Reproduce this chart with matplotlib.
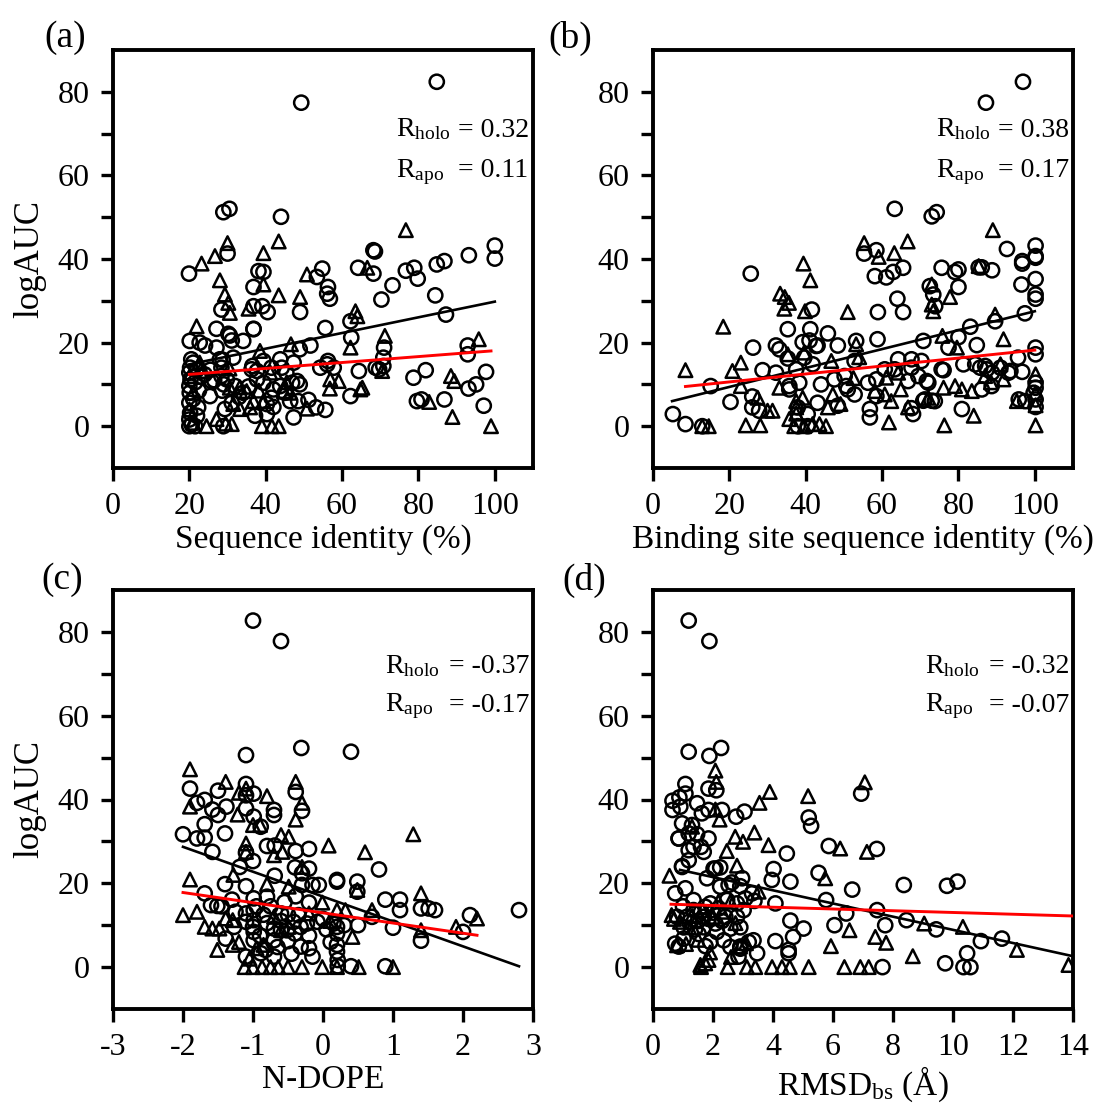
import matplotlib
matplotlib.use("Agg")
import matplotlib.pyplot as plt

plt.rcParams['font.family'] = ['Liberation Serif', 'DejaVu Serif']
plt.rcParams['mathtext.fontset'] = 'custom'
plt.rcParams['mathtext.rm'] = 'Liberation Serif'
plt.rcParams['mathtext.it'] = 'Liberation Serif:italic'

# ---------------- data ----------------
# (a) sequence identity
a_circles = [(84.8, 82.4), (49.3, 77.4), (28.9, 51.2), (30.5, 52.0), (44.0, 50.1), (100, 43.2), (100, 40.1),
             (93.2, 40.9), (84.8, 38.7), (86.8, 39.5), (78.9, 37.9), (79.8, 35.3), (76.7, 37.2), (73.2, 33.7),
             (70.3, 30.3), (68.2, 42.1), (68.6, 41.8), (68.2, 36.5), (64.2, 37.9), (54.8, 37.7), (53.4, 35.7),
             (56.3, 33.3), (56.1, 31.7), (56.8, 30.5), (49.0, 27.3), (84.4, 31.3), (87.2, 26.7), (55.6, 23.5),
             (62.2, 25.1), (62.4, 21.2), (51.7, 19.3), (48.9, 18.4), (19.9, 36.5), (30.0, 41.3), (38.1, 37.1),
             (39.4, 36.9), (36.8, 33.3), (36.8, 28.7), (39.1, 28.7), (40.5, 27.3), (28.4, 27.9), (36.8, 23.2),
             (34.1, 20.4), (27.1, 23.3), (30.2, 22.1), (31.1, 20.5), (20.1, 20.4), (22.7, 20.0), (24.1, 19.3),
             (27.1, 18.8), (20.5, 16.0), (31.5, 16.4), (39.4, 15.6), (43.8, 16.0), (47.3, 15.2), (56.3, 15.6),
             (56.1, 14.8), (57.8, 14.0), (54.3, 14.0), (71.0, 18.8), (70.8, 16.4), (70.8, 14.4), (68.8, 14.0),
             (69.7, 13.6), (64.4, 13.2), (92.9, 19.3), (92.9, 17.2), (97.7, 13.0), (93.1, 9.0), (95.1, 10.0),
             (78.7, 11.6), (81.9, 13.4), (79.6, 6.0), (80.8, 6.4), (86.8, 6.4), (97.1, 4.9), (62.2, 7.2),
             (51.2, 6.3), (55.6, 3.9), (47.3, 2.1), (46.4, 6.0), (46.9, 10.4), (48.2, 10.8), (48.9, 10.0),
             (43.8, 9.6), (45.4, 12.8), (42.0, 8.8), (40.3, 5.3), (42.0, 4.6), (37.2, 2.5), (40.3, 2.9),
             (37.7, 11.2), (39.4, 10.4), (36.3, 13.6), (37.7, 13.2), (34.1, 8.0), (29.3, 4.1), (31.1, 5.6),
             (28.9, 0.0), (25.4, 7.2), (25.8, 10.8), (28.4, 14.0), (28.4, 12.0), (29.8, 11.2), (28.0, 16.0),
             (22.3, 4.5), (20.0, 0.0), (20.6, 0.4), (21.5, 0.0), (20.0, 1.6), (20.2, 3.2), (20.0, 5.6),
             (20.1, 8.0), (20.0, 9.6), (20.3, 11.2), (20.0, 12.8), (20.2, 14.0), (21.0, 15.2), (22.0, 13.5),
             (21.5, 10.5), (22.5, 8.5), (21.0, 6.5), (22.0, 2.5), (23.0, 11.8), (30.6, 21.7), (36.8, 23.3),
             (28.7, 15.9), (36.5, 14.4), (41.5, 14.0), (44.2, 14.0), (28.6, 8.5), (33.0, 7.0), (35.5, 9.5),
             (45.0, 8.0), (48.5, 6.0), (53.2, 4.5), (41.5, 6.8), (25.5, 13.5), (24.0, 12.4), (26.5, 11.0),
             (29.0, 10.0), (32.0, 9.6)]
a_triangles = [(76.7, 46.9), (30.0, 43.8), (43.4, 44.2), (39.4, 41.4), (26.7, 40.7), (23.2, 38.9), (28.0, 34.9),
               (39.4, 33.9), (50.8, 36.3), (66.6, 37.9), (29.3, 31.5), (30.2, 29.5), (30.6, 27.1), (35.5, 28.1),
               (43.4, 31.3), (49.0, 30.9), (63.5, 27.5), (64.0, 26.3), (71.2, 21.6), (95.8, 20.8), (62.2, 18.8),
               (38.5, 18.0), (46.6, 19.6), (21.9, 23.9), (22.7, 15.2), (23.6, 13.2), (70.5, 13.2), (88.5, 12.0),
               (89.4, 10.8), (82.8, 5.8), (88.9, 2.2), (99.0, 0.0), (65.3, 9.2), (64.8, 8.8), (56.9, 11.2),
               (59.1, 10.8), (56.8, 9.0), (50.8, 4.2), (36.8, 6.0), (35.9, 4.5), (33.3, 4.1), (31.5, 5.3),
               (24.5, 0.0), (27.1, 1.7), (31.1, 0.5), (39.0, 0.0), (41.6, 0.0), (43.4, 0.0), (41.2, 12.8),
               (39.4, 6.0), (44.7, 8.4), (46.4, 8.0), (35.0, 8.4), (30.6, 9.2), (20.1, 12.0), (21.0, 8.0),
               (21.0, 0.8), (20.0, 4.0), (38.2, 8.5), (45.5, 10.5), (30.5, 13.8), (33.2, 9.3), (29.5, 0.6)]
a_black_x = [20, 100]
a_black_y = [14.8, 29.8]
a_red_x = [20, 99]
a_red_y = [12.4, 18.0]

# (b) binding site sequence identity
b_circles = [(96.9, 82.4), (87.2, 77.4), (63.3, 52.0), (73.0, 50.2), (74.3, 51.2), (92.7, 42.4), (100.2, 43.2),
             (100.2, 40.7), (100.2, 40.3), (96.7, 39.5), (96.7, 38.9), (58.5, 42.1), (55.3, 41.3), (58.1, 35.9),
             (61.1, 35.6), (62.9, 36.9), (65.5, 37.9), (75.6, 37.9), (79.1, 36.9), (80.0, 37.5), (88.8, 37.3),
             (85.3, 38.0), (86.1, 38.0), (25.6, 36.5), (100.2, 35.2), (96.5, 33.9), (100.2, 31.5), (100.2, 30.5),
             (80.0, 33.3), (64.0, 30.5), (58.9, 27.3), (65.5, 27.3), (41.6, 27.9), (73.4, 31.5), (73.9, 28.7),
             (72.5, 33.5), (97.4, 27.0), (89.6, 25.1), (83.1, 23.8), (80.0, 21.3), (84.8, 19.4), (70.8, 20.4),
             (58.8, 20.8), (53.2, 20.4), (45.8, 22.2), (41.2, 23.2), (35.3, 23.2), (39.2, 20.1), (39.6, 16.4),
             (43.1, 19.3), (48.4, 19.3), (32.2, 19.3), (33.1, 18.4), (26.2, 18.8), (35.3, 16.2), (28.7, 13.4),
             (32.2, 12.8), (37.5, 13.6), (41.8, 14.8), (52.8, 15.6), (64.2, 16.0), (67.7, 16.0), (70.3, 15.6),
             (60.7, 13.6), (76.1, 13.4), (81.3, 14.8), (84.4, 14.8), (85.7, 14.0), (87.4, 13.6), (88.8, 12.8),
             (91.0, 14.0), (93.6, 13.2), (95.6, 16.4), (96.7, 13.0), (100.2, 18.8), (100.2, 17.2), (100.2, 10.4),
             (100.2, 9.2), (100.2, 6.4), (100.2, 4.6), (95.8, 6.4), (97.5, 6.0), (80.9, 4.1), (71.2, 6.4),
             (73.8, 6.0), (68.1, 2.9), (56.8, 4.1), (56.8, 2.1), (58.5, 7.2), (51.0, 8.8), (52.8, 7.6),
             (50.2, 12.0), (44.0, 10.0), (43.1, 5.6), (48.4, 4.9), (40.5, 2.9), (37.9, 4.5), (35.7, 9.6),
             (38.3, 10.4), (26.0, 7.1), (26.0, 4.5), (27.8, 3.7), (20.3, 5.8), (15.1, 9.6), (5.2, 2.9),
             (8.5, 0.5), (12.9, 0.0), (37.9, 0.0), (40.5, 0.0), (63.3, 13.6), (56.3, 10.4), (58.5, 11.2),
             (66.8, 10.8), (69.5, 12.0), (72.1, 10.4), (86.1, 8.8), (77.4, 18.8), (67.7, 14.0), (71.7, 10.8),
             (73.0, 6.1), (70.8, 6.1), (67.7, 4.3), (75.6, 13.6), (87.0, 14.4), (88.7, 9.6), (93.1, 12.8),
             (99.7, 8.0), (41.0, 20.5), (42.7, 19.2), (35.7, 8.8), (47.5, 11.2), (50.6, 9.6)]
b_triangles = [(89.0, 46.9), (55.3, 43.8), (66.7, 44.2), (63.2, 41.4), (59.1, 40.5), (39.4, 38.9), (41.2, 34.9),
               (33.3, 31.7), (34.5, 30.9), (35.6, 29.5), (34.4, 28.1), (39.8, 27.5), (51.0, 27.3), (73.0, 33.9),
               (73.4, 27.5), (73.0, 29.1), (77.8, 30.9), (85.3, 38.3), (89.6, 26.7), (75.8, 21.6), (91.8, 20.8),
               (79.6, 18.8), (53.2, 19.6), (39.6, 17.6), (35.3, 17.2), (46.7, 15.6), (23.0, 15.2), (20.8, 13.2),
               (18.4, 23.8), (8.5, 13.4), (23.0, 9.6), (33.1, 9.2), (27.4, 6.8), (30.0, 3.7), (31.3, 3.7),
               (37.5, 4.5), (39.2, 6.8), (45.8, 4.5), (47.1, 7.6), (49.1, 5.3), (58.1, 8.4), (60.7, 7.6),
               (62.4, 6.0), (64.9, 8.8), (66.8, 4.5), (72.1, 6.8), (76.1, 9.2), (79.1, 9.6), (80.9, 8.8),
               (83.5, 8.4), (91.0, 14.8), (91.8, 11.2), (95.3, 6.0), (100.2, 12.4), (84.0, 2.5), (100.2, 0.2),
               (76.3, 0.2), (61.8, 0.9), (24.3, 0.2), (28.1, 0.2), (14.6, 0.0), (12.9, 0.0), (35.7, 1.7),
               (37.0, 0.0), (39.6, 0.0), (41.8, 0.5), (43.6, 0.5), (45.3, 0.0), (61.1, 11.6), (64.2, 12.8),
               (37.5, 6.0), (37.5, 3.0), (54.0, 16.5), (52.5, 11.5), (87.0, 12.0), (88.5, 10.5), (100.2, 8.0),
               (100.2, 5.0)]
b_black_x = [5, 100]
b_black_y = [6.0, 27.5]
b_red_x = [8.5, 100]
b_red_y = [9.5, 18.2]

# (c) N-DOPE
c_circles = [(-1.0, 82.7), (-0.6, 77.8), (-0.31, 52.3), (0.40, 51.4), (-1.1, 50.6), (-1.9, 42.6), (-1.5, 42.1),
             (-1.1, 43.7), (-1.1, 41.0), (-0.99, 41.4), (-0.39, 41.8), (-1.8, 39.2), (-1.69, 39.9), (-1.58, 37.6),
             (-1.5, 36.3), (-1.38, 38.3), (-1.69, 34.1), (-1.1, 37.9), (-0.99, 35.9), (-0.89, 33.5), (-0.7, 37.5),
             (-0.7, 36.3), (-0.3, 37.3), (-2.0, 31.7), (-1.8, 30.7), (-1.69, 30.9), (-1.4, 31.9), (-1.58, 27.5),
             (-0.8, 28.9), (-0.69, 29.0), (-0.39, 27.7), (-0.2, 28.2), (-1.1, 27.3), (-1.0, 25.3), (-1.19, 23.9),
             (-0.4, 23.8), (-0.2, 23.5), (-0.3, 22.4), (-0.69, 21.8), (-1.4, 19.8), (-1.1, 19.3), (-1.69, 17.6),
             (-1.6, 14.8), (-1.51, 14.6), (-1.3, 16.1), (-0.99, 16.4), (-0.8, 16.8), (-0.39, 16.9), (-0.2, 15.4),
             (-0.3, 19.6), (-0.15, 19.6), (-0.06, 19.6), (0.2, 20.8), (0.2, 20.4), (0.49, 20.4), (0.49, 18.0),
             (0.8, 23.3), (0.89, 16.1), (1.1, 16.1), (1.1, 13.6), (1.4, 14.0), (1.51, 14.0), (1.6, 13.6),
             (2.1, 12.4), (2.0, 8.4), (2.8, 13.6), (1.0, 9.4), (1.4, 6.3), (0.89, 0.2), (0.4, 0.2), (0.21, 0.2),
             (0.21, 1.7), (0.2, 5.3), (0.2, 3.7), (0.2, 8.0), (0.2, 9.6), (0.5, 10.0), (0.3, 10.0), (0.15, 10.4),
             (-0.08, 10.8), (-0.23, 10.4), (-0.32, 9.6), (-0.42, 10.8), (-0.51, 8.8), (-0.6, 12.8), (-0.6, 8.8),
             (-0.7, 9.2), (-0.7, 6.4), (-0.82, 4.1), (-0.89, 3.3), (-0.7, 2.5), (-0.99, 6.4), (-0.99, 8.4),
             (-0.99, 11.2), (-0.99, 13.6), (-1.0, 9.6), (-1.1, 12.8), (-1.1, 10.8), (-1.1, 2.5), (-1.27, 9.6),
             (-1.39, 6.8), (-0.32, 4.9), (-0.2, 4.5), (0.11, 6.0), (0.7, 12.0), (-1.45, 14.5), (-1.25, 13.2),
             (-0.5, 12.5), (-0.35, 12.4), (0.0, 11.5), (-0.85, 12.5), (-0.75, 14.5), (-0.55, 15.5), (-0.9, 7.5),
             (-0.5, 6.2), (-0.45, 3.2), (-0.95, 14.5), (-0.6, 11.0), (-0.4, 8.0), (-0.2, 7.5), (0.05, 9.0),
             (-0.8, 10.5), (-0.65, 4.8), (-0.15, 2.5)]
c_triangles = [(-1.9, 47.2), (-1.39, 44.2), (-0.39, 44.2), (-1.2, 41.6), (-1.1, 42.6), (-0.8, 40.8), (-1.9, 38.3),
               (-1.22, 36.4), (-0.3, 39.2), (-0.39, 35.2), (-1.0, 33.9), (-0.9, 33.9), (-0.6, 31.5), (-0.49, 31.1),
               (-1.1, 29.5), (-1.1, 27.5), (-0.7, 26.7), (-0.58, 27.5), (0.08, 29.0), (0.6, 27.4), (1.29, 31.7),
               (-0.3, 23.9), (-1.28, 22.0), (-1.9, 20.9), (-0.8, 19.8), (-0.49, 19.2), (0.49, 18.4), (1.4, 17.6),
               (-0.01, 15.4), (0.2, 13.6), (0.32, 13.6), (0.7, 13.6), (2.2, 11.6), (1.9, 9.6), (1.4, 8.8),
               (-2.0, 12.4), (-1.8, 13.2), (-1.69, 9.6), (-1.58, 9.2), (-1.48, 9.2), (-1.39, 11.6), (-1.29, 11.2),
               (-1.51, 4.1), (-1.29, 5.3), (-1.2, 6.0), (-0.6, 8.8), (-0.49, 9.6), (0.42, 7.2), (-1.12, 0.0),
               (-1.0, 0.0), (-0.87, 0.0), (-0.75, 0.0), (-0.64, 0.0), (-0.5, 0.0), (-0.3, 0.0), (-0.01, 0.0),
               (0.2, 0.0), (0.51, 0.0), (1.0, 0.0), (-0.85, 5.3), (-0.7, 12.0), (-1.05, 2.0), (-0.95, 4.5),
               (-0.2, 12.8), (0.1, 11.0)]
c_black_x = [-2.0, 2.8]
c_black_y = [28.7, 0.2]
c_red_x = [-2.0, 2.2]
c_red_y = [17.8, 7.6]

# (d) RMSD of binding site
d_circles = [(1.19, 82.7), (1.88, 77.8), (1.19, 51.4), (1.88, 50.4), (2.27, 52.3), (6.94, 41.4), (1.08, 43.7),
             (1.85, 42.6), (2.11, 42.2), (0.65, 39.7), (0.65, 37.5), (0.88, 40.5), (0.91, 38.3), (1.08, 41.4),
             (1.47, 39.1), (1.63, 36.7), (1.85, 37.5), (2.3, 37.5), (2.77, 35.9), (3.05, 37.1), (0.97, 34.3),
             (0.86, 30.7), (1.19, 31.9), (1.47, 31.7), (1.85, 30.7), (1.6, 28.7), (1.69, 27.5), (1.19, 27.9),
             (5.19, 35.7), (5.27, 33.7), (5.86, 28.9), (7.46, 28.2), (4.46, 27.1), (0.97, 24.1), (1.19, 25.5),
             (2.02, 23.5), (2.24, 23.8), (4.02, 23.4), (3.96, 20.8), (4.58, 20.4), (5.52, 22.5), (6.64, 18.5),
             (8.36, 19.6), (9.8, 19.4), (10.15, 20.4), (1.8, 21.2), (2.24, 19.2), (2.52, 19.6), (2.91, 19.3),
             (1.08, 18.8), (0.74, 17.6), (4.08, 15.2), (5.77, 16.0), (7.47, 13.6), (6.44, 12.8), (8.45, 11.2),
             (9.44, 9.0), (7.74, 10.0), (6.05, 10.0), (4.58, 11.1), (5.02, 9.2), (3.38, 15.8), (3.35, 6.4),
             (3.47, 3.3), (4.08, 6.2), (4.52, 4.1), (4.52, 3.3), (4.67, 7.2), (2.85, 2.5), (2.91, 4.9),
             (0.86, 4.9), (1.02, 6.8), (10.93, 6.2), (11.63, 6.8), (10.47, 3.3), (10.35, 0.0), (10.58, 0.0),
             (9.74, 0.9), (7.65, 0.0), (0.8, 12.0), (1.02, 9.5), (1.35, 13.6), (1.69, 12.0), (1.91, 15.2),
             (2.08, 10.4), (2.41, 12.0), (2.8, 15.2), (2.91, 9.5), (3.02, 13.6), (1.52, 7.9), (1.91, 6.0),
             (2.36, 6.4), (2.58, 4.8), (2.91, 4.4), (3.19, 6.0), (0.74, 5.6), (1.35, 16.0), (1.13, 12.0),
             (1.69, 9.5), (2.13, 8.4), (2.58, 9.2), (2.8, 12.0), (3.08, 16.4), (1.74, 14.4), (2.19, 14.0),
             (2.47, 16.0), (1.5, 11.0), (1.2, 10.8), (1.85, 11.5), (2.0, 13.0), (1.6, 13.2), (1.4, 9.0),
             (1.0, 14.5), (2.3, 11.0), (1.75, 5.0), (1.3, 33.9), (0.85, 30.7), (1.35, 28.7), (2.08, 23.5),
             (0.97, 23.9), (2.63, 20.2), (2.97, 21.2), (3.3, 17.6)]
d_triangles = [(2.08, 46.9), (2.11, 44.2), (7.06, 44.1), (3.89, 41.8), (5.17, 40.8), (3.55, 39.2), (2.08, 37.6),
               (2.22, 35.2), (1.3, 33.5), (2.74, 31.1), (3.0, 29.9), (3.38, 32.1), (3.85, 29.1), (2.46, 27.7),
               (2.8, 24.2), (6.24, 28.3), (7.13, 27.5), (5.74, 21.2), (0.55, 21.8), (3.52, 18.0), (2.18, 15.6),
               (2.58, 15.6), (9.04, 10.4), (10.33, 9.6), (12.13, 4.1), (13.85, 0.5), (8.66, 2.6), (6.55, 8.8),
               (5.93, 5.0), (7.41, 7.2), (7.77, 5.8), (0.8, 5.2), (1.1, 5.5), (1.58, 0.5), (1.74, 0.9),
               (1.85, 1.7), (2.49, 0.0), (3.13, 0.0), (3.41, 0.0), (3.97, 0.0), (4.3, 0.0), (4.56, 0.0),
               (5.19, 0.0), (6.38, 0.0), (6.91, 0.0), (7.19, 0.0), (2.9, 4.9), (3.1, 5.7), (0.62, 12.4),
               (0.9, 10.8), (1.3, 12.2), (1.65, 13.6), (2.0, 12.0), (2.3, 13.2), (2.75, 10.5), (1.5, 6.5),
               (1.2, 9.5), (0.7, 11.5), (2.6, 2.4), (1.9, 3.5), (1.6, 0.0)]
d_black_x = [0.9, 14.0]
d_black_y = [23.2, 2.6]
d_red_x = [0.6, 14.0]
d_red_y = [15.0, 12.2]

panel_letters = ['(a)', '(b)', '(c)', '(d)']
x_labels = ['Sequence identity (%)', 'Binding site sequence identity (%)', 'N-DOPE', r'RMSD$_{\rm bs}$ (Å)']
r_holo = ['0.32', '0.38', '-0.37', '-0.32']
r_apo = ['0.11', '0.17', '-0.17', '-0.07']
x_limits = [(0, 110), (0, 110), (-3, 3), (0, 14)]
x_ticks = [[0, 20, 40, 60, 80, 100], [0, 20, 40, 60, 80, 100], [-3, -2, -1, 0, 1, 2, 3],
           [0, 2, 4, 6, 8, 10, 12, 14]]

# ---------------- figure ----------------
fig = plt.figure(figsize=(10.97, 11.13), dpi=100)
W, H = 1097, 1113
boxes = [(113, 50, 533, 468), (653, 50, 1073, 468), (113, 590, 533, 1009), (653, 590, 1073, 1009)]
letter_pos = [(65, 38), (570, 38), (62, 580), (584, 580)]

circles = [a_circles, b_circles, c_circles, d_circles]
triangles = [a_triangles, b_triangles, c_triangles, d_triangles]
blacks = [(a_black_x, a_black_y), (b_black_x, b_black_y), (c_black_x, c_black_y), (d_black_x, d_black_y)]
reds = [(a_red_x, a_red_y), (b_red_x, b_red_y), (c_red_x, c_red_y), (d_red_x, d_red_y)]

for i in range(4):
    l, t, r, b = boxes[i]
    ax = fig.add_axes([l / W, 1 - b / H, (r - l) / W, (b - t) / H])

    cx, cy = zip(*circles[i])
    tx, ty = zip(*triangles[i])
    ax.scatter(cx, cy, s=105, marker='o', facecolors='none', edgecolors='black', linewidths=1.8, zorder=2)
    ax.scatter(tx, ty, s=95, marker='^', facecolors='none', edgecolors='black', linewidths=1.8, zorder=2)
    ax.plot(blacks[i][0], blacks[i][1], color='black', lw=1.9, zorder=3)
    ax.plot(reds[i][0], reds[i][1], color='red', lw=2.1, zorder=3)

    ax.set_xlim(*x_limits[i])
    ax.set_ylim(-10, 90)
    ax.set_xticks(x_ticks[i])
    ax.set_xticklabels([str(v) for v in x_ticks[i]])
    ax.set_yticks([0, 20, 40, 60, 80])
    ax.set_yticks([10, 30, 50, 70], minor=True)
    ax.tick_params(which='both', direction='out', length=9, width=2.4, labelsize=23, pad=8,
                   top=False, right=False)
    for s in ax.spines.values():
        s.set_linewidth(2.8)

    ax.set_xlabel(x_labels[i], fontsize=24, labelpad=2)
    if i in (0, 2):
        ax.set_ylabel('logAUC', fontsize=25, labelpad=8)

    if i < 2:
        rx, ex, yh, ya = 0.674, 0.821, 0.793, 0.697
    else:
        rx, ex, yh, ya = 0.648, 0.800, 0.802, 0.710
    ax.text(rx, yh, r'R$_{\rm holo}$', transform=ax.transAxes, fontsize=20, va='baseline')
    ax.text(ex, yh, '= ' + r_holo[i], transform=ax.transAxes, fontsize=20, va='baseline')
    ax.text(rx, ya, r'R$_{\rm apo}$', transform=ax.transAxes, fontsize=20, va='baseline')
    ax.text(ex, ya, '= ' + r_apo[i], transform=ax.transAxes, fontsize=20, va='baseline')

    lx, ly = letter_pos[i]
    fig.text(lx / W, 1 - ly / H, panel_letters[i], fontsize=27, ha='center', va='center')

fig.savefig('out.png', dpi=100)
